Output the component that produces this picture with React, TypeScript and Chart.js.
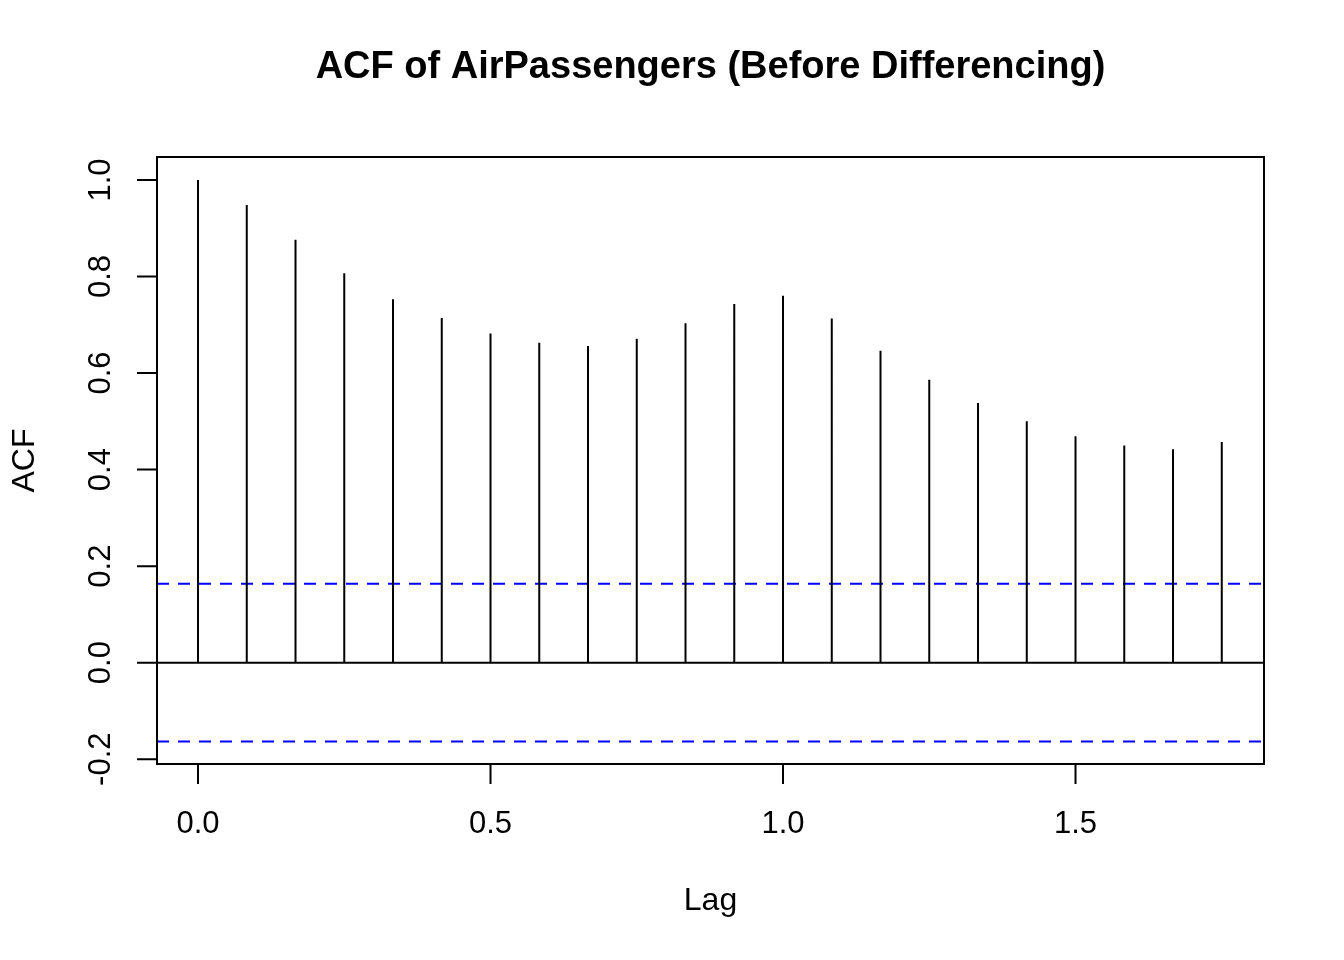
import React, { useEffect, useRef } from "react";
import { Chart, registerables } from "chart.js";

Chart.register(...registerables);

const lags: number[] = [0, 1/12, 2/12, 3/12, 4/12, 5/12, 6/12, 7/12, 8/12, 9/12, 10/12, 11/12, 1, 13/12, 14/12, 15/12, 16/12, 17/12, 18/12, 19/12, 20/12, 21/12];
const acfValues: number[] = [1.0, 0.948, 0.876, 0.807, 0.753, 0.714, 0.682, 0.663, 0.656, 0.671, 0.703, 0.743, 0.760, 0.713, 0.646, 0.586, 0.538, 0.500, 0.469, 0.450, 0.442, 0.457];
const confBound = 1.96 / Math.sqrt(144);
const xTicks: number[] = [0, 0.5, 1.0, 1.5];
const yTicks: number[] = [-0.2, 0, 0.2, 0.4, 0.6, 0.8, 1.0];
const titleText = "ACF of AirPassengers (Before Differencing)";
const xLabel = "Lag";
const yLabel = "ACF";

const X_MIN = -0.0701;
const X_MAX = 1.8222;
const Y_MIN = -0.2099;
const Y_MAX = 1.0476;

const FONT = "Liberation Sans, Arial, Helvetica, sans-serif";
const LW = 2;

const rAxesPlugin = {
  id: "rAxes",
  afterDraw(chart: any) {
    const ctx = chart.ctx;
    const { left, right, top, bottom } = chart.chartArea;
    const xs = chart.scales.x;
    const ys = chart.scales.y;
    ctx.save();
    ctx.strokeStyle = "#000";
    ctx.fillStyle = "#000";
    ctx.lineWidth = LW;
    // box
    ctx.strokeRect(left, top, right - left, bottom - top);
    // x axis ticks
    const tickLen = 20;
    ctx.beginPath();
    const x0 = xs.getPixelForValue(xTicks[0]);
    const x1 = xs.getPixelForValue(xTicks[xTicks.length - 1]);
    ctx.moveTo(x0, bottom);
    ctx.lineTo(x1, bottom);
    xTicks.forEach((t) => {
      const px = xs.getPixelForValue(t);
      ctx.moveTo(px, bottom);
      ctx.lineTo(px, bottom + tickLen);
    });
    ctx.stroke();
    ctx.font = `31px ${FONT}`;
    ctx.textAlign = "center";
    ctx.textBaseline = "middle";
    xTicks.forEach((t) => {
      ctx.fillText(t.toFixed(1), xs.getPixelForValue(t), 824);
    });
    // y axis ticks
    ctx.beginPath();
    ctx.moveTo(left, ys.getPixelForValue(yTicks[0]));
    ctx.lineTo(left, ys.getPixelForValue(yTicks[yTicks.length - 1]));
    yTicks.forEach((t) => {
      const py = ys.getPixelForValue(t);
      ctx.moveTo(left, py);
      ctx.lineTo(left - tickLen, py);
    });
    ctx.stroke();
    yTicks.forEach((t) => {
      const py = ys.getPixelForValue(t);
      ctx.save();
      ctx.translate(101, py);
      ctx.rotate(-Math.PI / 2);
      ctx.fillText(t.toFixed(1), 0, 0);
      ctx.restore();
    });
    // axis labels
    ctx.font = `32px ${FONT}`;
    ctx.fillText(xLabel, (left + right) / 2, 901);
    ctx.save();
    ctx.translate(25, (top + bottom) / 2);
    ctx.rotate(-Math.PI / 2);
    ctx.fillText(yLabel, 0, 0);
    ctx.restore();
    // title
    ctx.font = `bold 38px ${FONT}`;
    ctx.fillText(titleText, (left + right) / 2, 68);
    ctx.restore();
  },
};

export default function App() {
  const canvasRef = useRef<HTMLCanvasElement | null>(null);

  useEffect(() => {
    if (!canvasRef.current) return;
    const spikeData: any[] = [];
    lags.forEach((l, i) => {
      spikeData.push({ x: l, y: 0 });
      spikeData.push({ x: l, y: acfValues[i] });
      spikeData.push({ x: l, y: null });
    });
    const chart = new Chart(canvasRef.current, {
      type: "line",
      data: {
        datasets: [
          {
            label: "ACF",
            data: spikeData,
            borderColor: "#000",
            borderWidth: LW,
            pointRadius: 0,
            spanGaps: false,
            tension: 0,
          },
          {
            label: "zero",
            data: [
              { x: X_MIN, y: 0 },
              { x: X_MAX, y: 0 },
            ],
            borderColor: "#000",
            borderWidth: LW,
            pointRadius: 0,
          },
          {
            label: "upper",
            data: [
              { x: X_MIN, y: confBound },
              { x: X_MAX, y: confBound },
            ],
            borderColor: "#0000ff",
            borderWidth: LW,
            borderDash: [12, 9],
            pointRadius: 0,
          },
          {
            label: "lower",
            data: [
              { x: X_MIN, y: -confBound },
              { x: X_MAX, y: -confBound },
            ],
            borderColor: "#0000ff",
            borderWidth: LW,
            borderDash: [12, 9],
            pointRadius: 0,
          },
        ],
      },
      options: {
        animation: false,
        responsive: false,
        maintainAspectRatio: false,
        devicePixelRatio: 1,
        layout: { padding: { left: 157, top: 157, right: 80, bottom: 196 } },
        plugins: {
          legend: { display: false },
          tooltip: { enabled: false },
          title: { display: false },
        },
        scales: {
          x: { type: "linear", min: X_MIN, max: X_MAX, display: false },
          y: { type: "linear", min: Y_MIN, max: Y_MAX, display: false },
        },
      },
      plugins: [rAxesPlugin],
    });
    return () => chart.destroy();
  }, []);

  return (
    <div style={{ position: "absolute", left: 0, top: 0, width: 1344, height: 960, background: "#fff" }}>
      <canvas ref={canvasRef} width={1344} height={960} style={{ width: 1344, height: 960 }} />
    </div>
  );
}
